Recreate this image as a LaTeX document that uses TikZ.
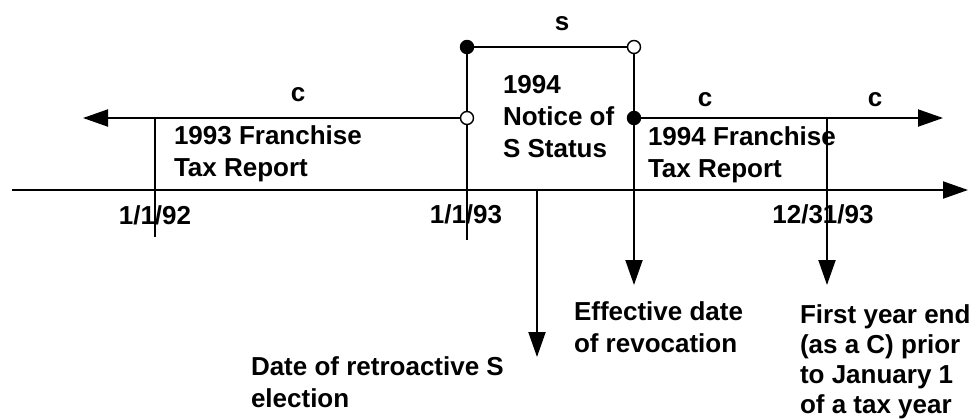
\documentclass[tikz,border=0pt]{standalone}
\usepackage{fontspec}
\setmainfont{Liberation Sans}
\usetikzlibrary{
    arrows.meta,
    positioning
}

\begin{document}
\begin{tikzpicture}[x=0.5pt, y=-0.5pt, line width=1pt,
    every node/.style={font=\fontsize{13}{16}\selectfont\bfseries, inner sep=0pt},
    lbl/.style={align=left, anchor=base west},
    dat/.style={anchor=base},
    opendot/.style={circle, draw, fill=white, line width=0.7pt, minimum size=6.5pt},
    fulldot/.style={circle, draw, fill=black, line width=0.7pt, minimum size=6.5pt},
    arr/.style={-{Triangle[length=12.5pt, width=8.5pt]}}]
                        \useasboundingbox (0, 0) rectangle (976, 419);

                        % points of the time line
                        \coordinate (axL) at (12, 190);
                        \coordinate (axR) at (968, 190);
                        \coordinate (pS1) at (467, 47);
                        \coordinate (pS2) at (634, 47);
                        \coordinate (p93) at (467, 118);
                        \coordinate (pRev) at (634, 118);
                        \coordinate (cL) at (83, 118);
                        \coordinate (cR) at (943, 118);
                        \coordinate (t92) at (155, 118);
                        \coordinate (b92) at (155, 237);
                        \coordinate (b93) at (467, 240);
                        \coordinate (elec) at (537, 190);
                        \coordinate (elecEnd) at (537, 357);
                        \coordinate (revEnd) at (634, 285);
                        \coordinate (ye) at (827, 118);
                        \coordinate (yeEnd) at (827, 285);

                        \draw
                        (axL) edge[arr] (axR)
                        (p93) edge[arr] (cL)
                        (pRev) edge[arr] (cR)
                        (t92) edge (b92)
                        (pS1) edge (b93)
                        (pS1) edge (pS2)
                        (pS2) edge[arr] (revEnd)
                        (ye) edge[arr] (yeEnd)
                        (elec) edge[arr] (elecEnd);

                        \node[fulldot] (s1) at (pS1) {};
                        \node[opendot] (s2) at (pS2) {};
                        \node[opendot] (o93) at (p93) {};
                        \node[fulldot] (rev) at (pRev) {};

                        % labels (multi-line ones sit on their last line)
                        \node[dat] (sTag) at (562, 30) {s};
                        \node[dat] (c1) at (298, 101) {c};
                        \node[dat] (c2) at (705, 106) {c};
                        \node[dat] (c3) at (875, 106) {c};
                        \node[lbl] (fr93) at (173, 176) {1993 Franchise\\Tax Report};
                        \node[lbl] (notice) at (502, 157) {1994\\Notice of\\S Status};
                        \node[lbl] (fr94) at (647, 177) {1994 Franchise\\Tax Report};
                        \node[dat] (d92) at (155, 224) {1/1/92};
                        \node[dat] (d93) at (466, 223) {1/1/93};
                        \node[dat] (d9312) at (823, 223) {12/31/93};
                        \node[lbl] (eff) at (573, 352) {Effective date\\of revocation};
                        \node[lbl, font=\fontsize{13}{15}\selectfont\bfseries] (fye) at (799, 413) {First year end\\(as a C) prior\\to January 1\\of a tax year};
                        \node[lbl] (retro) at (250, 407) {Date of retroactive S\\election};
                    \end{tikzpicture}
\end{document}
